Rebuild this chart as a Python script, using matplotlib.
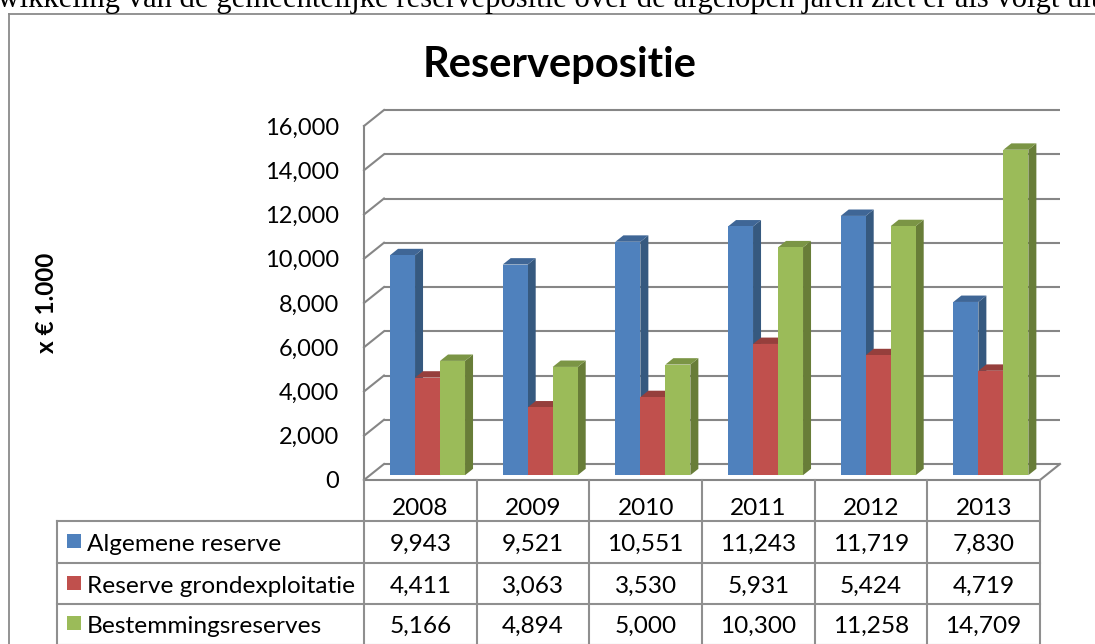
import matplotlib
matplotlib.use('Agg')
import matplotlib.pyplot as plt
from matplotlib.patches import Polygon, Rectangle
from matplotlib.transforms import blended_transform_factory

# ---------------- data ----------------
years = ['2008', '2009', '2010', '2011', '2012', '2013']
series_names = ['Algemene reserve', 'Reserve grondexploitatie', 'Bestemmingsreserves']
algemene_reserve = [9943, 9521, 10551, 11243, 11719, 7830]
reserve_grondexploitatie = [4411, 3063, 3530, 5931, 5424, 4719]
bestemmingsreserves = [5166, 4894, 5000, 10300, 11258, 14709]
y_ticks = [0, 2000, 4000, 6000, 8000, 10000, 12000, 14000, 16000]
title_text = 'Reservepositie'
ylabel_text = 'x \u20ac 1.000'
intro_text = ('De ontwikkeling van de gemeentelijke reservepositie over de '
              'afgelopen jaren ziet er als volgt uit:')

series = [algemene_reserve, reserve_grondexploitatie, bestemmingsreserves]
front_cols = ['#4F81BD', '#C0504D', '#9BBB59']
side_cols = ['#36597F', '#8A3A37', '#687D38']
top_cols = ['#3F6696', '#963F3C', '#7B9545']

plt.rcParams['font.family'] = ['Lato', 'DejaVu Sans']

W, H = 1095, 644
fig = plt.figure(figsize=(W / 100, H / 100), dpi=100)
fig.patch.set_facecolor('white')


def fx(px):
    return px / W


def fy(py):
    return 1 - py / H


# plot axes: front plane of the 3-D box
X0, X1, Y0, Y1 = 364, 1040, 480, 126
ax = fig.add_axes([fx(X0), fy(Y0), fx(X1) - fx(X0), fy(Y1) - fy(Y0)])
ax.set_xlim(-0.5, len(years) - 0.5)
ax.set_ylim(0, 16000)
for s in ax.spines.values():
    s.set_visible(False)
ax.set_xticks([])
ax.set_yticks(y_ticks)
ax.set_yticklabels([f'{v:,}' for v in y_ticks], fontsize=17)
ax.tick_params(axis='y', length=0, pad=18)
ax.patch.set_alpha(0)

# depth offsets in data units
ppx = (X1 - X0) / len(years)          # pixels per category
ppy = (Y0 - Y1) / 16000.0             # pixels per value unit
DX = 20 / ppx
DY = 16 / ppy

grid_col = '#868686'
glw = 1.5

# back wall gridlines + left wall diagonals
for v in y_ticks:
    ax.plot([-0.5 + DX, len(years) - 0.5 + DX], [v + DY, v + DY],
            color=grid_col, lw=glw, clip_on=False, zorder=1,
            solid_capstyle='butt')
    ax.plot([-0.5, -0.5 + DX], [v, v + DY], color=grid_col, lw=glw,
            clip_on=False, zorder=1)
# front axis line
ax.plot([-0.5, -0.5], [0, 16000], color=grid_col, lw=glw, clip_on=False, zorder=1)
# floor front edge and right edge
ax.plot([-0.5, len(years) - 0.5], [0, 0], color=grid_col, lw=glw, clip_on=False, zorder=1)
ax.plot([len(years) - 0.5, len(years) - 0.5 + DX], [0, DY], color=grid_col, lw=glw,
        clip_on=False, zorder=1)

# bars
f0, f1 = 0.30, 0.70
bw = 25 / ppx
gl = -36.3 / ppx
z = 2
for i in range(len(years)):
    for j, vals in enumerate(series):
        v = vals[i]
        xl = i + gl + j * bw
        xr = xl + bw
        a0x, a0y = f0 * DX, f0 * DY
        a1x, a1y = f1 * DX, f1 * DY
        side = Polygon([(xr + a0x, a0y), (xr + a1x, a1y), (xr + a1x, v + a1y), (xr + a0x, v + a0y)],
                       closed=True, facecolor=side_cols[j], edgecolor='none', clip_on=False, zorder=z)
        top = Polygon([(xl + a0x, v + a0y), (xr + a0x, v + a0y), (xr + a1x, v + a1y), (xl + a1x, v + a1y)],
                      closed=True, facecolor=top_cols[j], edgecolor='none', clip_on=False, zorder=z)
        front = Rectangle((xl + a0x, a0y), bw, v, facecolor=front_cols[j], edgecolor='none',
                          clip_on=False, zorder=z)
        for p in (side, top, front):
            ax.add_patch(p)
        z += 1

# data table
tb = blended_transform_factory(ax.transData, fig.transFigure)
tf = fig.transFigure
tcol = '#8F8F8F'
row_lines = [521, 563, 604, 645]
for k in range(len(years) + 1):
    ax.plot([k - 0.5, k - 0.5], [fy(480), fy(660)], transform=tb, color=tcol, lw=glw,
            clip_on=False, zorder=20)
LEG_X = 57
fig.add_artist(plt.Line2D([fx(LEG_X), fx(LEG_X)], [fy(521), fy(660)], color=tcol, lw=glw))
for yl in row_lines:
    fig.add_artist(plt.Line2D([fx(LEG_X), fx(X1)], [fy(yl), fy(yl)], color=tcol, lw=glw))

head_base = 515
row_base = [551, 593, 633]
for i, yr in enumerate(years):
    ax.text(i, fy(head_base), yr, transform=tb, ha='center', va='baseline', fontsize=17.6,
            color='black', clip_on=False)
    for r, vals in enumerate(series):
        ax.text(i, fy(row_base[r]), f'{vals[i]:,}', transform=tb, ha='center', va='baseline',
                fontsize=17.6, color='black', clip_on=False)

for r, name in enumerate(series_names):
    fig.add_artist(Rectangle((fx(67), fy(row_base[r] - 3)), fx(14), 14 / H, transform=tf,
                             facecolor=front_cols[r], edgecolor='none'))
    fig.text(fx(87), fy(row_base[r]), name, ha='left', va='baseline', fontsize=17.6)

# title and axis label
fig.text(fx(560), fy(77), title_text, ha='center', va='baseline', fontsize=30,
         fontweight='bold')
fig.text(fx(47), fy(303), ylabel_text, ha='center', va='center', rotation=90,
         fontsize=17.5, fontweight='bold')

# chart border (left + top visible)
bcol = '#8A8A8A'
fig.add_artist(plt.Line2D([fx(9), fx(9)], [fy(14), fy(700)], color=bcol, lw=1.3))
fig.add_artist(plt.Line2D([fx(9), fx(1200)], [fy(14), fy(14)], color=bcol, lw=1.3))

# intro sentence cut at the top
renderer = fig.canvas.get_renderer()
serif = ['Liberation Serif', 'DejaVu Serif']
probe = fig.text(0, 0, 'gemeentelijke reservepositie over de afgelopen jaren ziet er als volgt uit',
                 fontsize=20, family=serif)
wspan = probe.get_window_extent(renderer).width
probe.remove()
fs_intro = 20 * 884 / wspan
p1 = fig.text(0, 0, 'De ontwikkeling van de gemeentelijke', fontsize=fs_intro, family=serif)
p2 = fig.text(0, 0, 'gemeentelijke', fontsize=fs_intro, family=serif)
wpre = p1.get_window_extent(renderer).width - p2.get_window_extent(renderer).width
p1.remove()
p2.remove()
fig.text(fx(216 - wpre), fy(7.5), intro_text, ha='left', va='baseline', fontsize=fs_intro,
         family=serif)

fig.savefig('out.png', dpi=100, facecolor='white')
